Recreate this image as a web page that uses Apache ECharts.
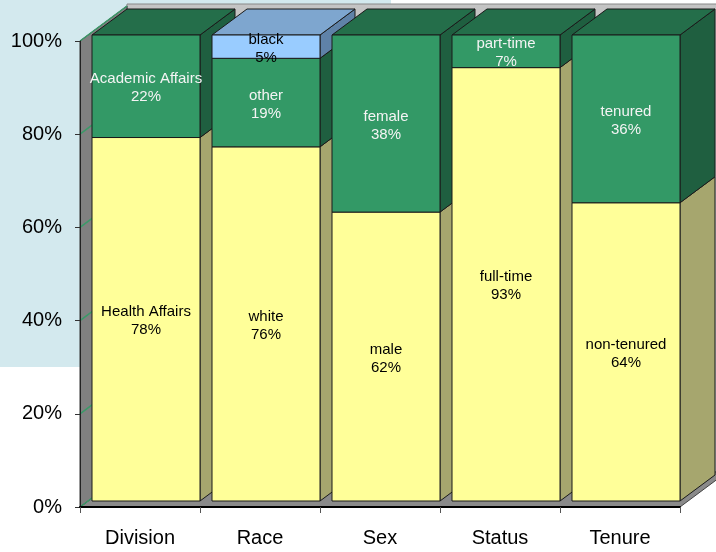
<!DOCTYPE html>
<html><head><meta charset="utf-8">
<script src="https://cdn.jsdelivr.net/npm/echarts@6/dist/echarts.min.js"></script>
<style>html,body{margin:0;padding:0;background:#fff}#c{width:716px;height:552px}</style>
</head><body><div id="c"></div>
<script>
// ---- data ----
const categories = ['Division', 'Race', 'Sex', 'Status', 'Tenure'];
const bottomNames = ['Health Affairs', 'white', 'male', 'full-time', 'non-tenured'];
const bottomValues = [78, 76, 62, 93, 64];
const middleNames = ['Academic Affairs', 'other', 'female', 'part-time', 'tenured'];
const middleValues = [22, 19, 38, 7, 36];
const topNames = ['', 'black', '', '', ''];
const topValues = [0, 5, 0, 0, 0];
const yTicks = [0, 20, 40, 60, 80, 100];

// ---- style ----
const FONT = '"Liberation Sans", Arial, sans-serif';
const G = {left: 80, right: 36, top: 41, bottom: 45};
const DX = 35, DY = 26, OFFX = 12, OFFY = 6;
const WDX = 47, WDY = 35;
const segStyles = [
  {front: '#FFFF99', side: '#A6A66E', top: '#CCCC80'},
  {front: '#339966', side: '#1F5F40', top: '#246E4A'},
  {front: '#99CCFF', side: '#5F82A8', top: '#7EA6CF'}
];
const textColors = ['#000', '#F4F4F4', '#000'];

const seriesData = categories.map((c, i) => [i, bottomValues[i], middleValues[i], topValues[i]]);

function renderItem(params, api) {
  const i = api.value(0);
  const vals = [api.value(1), api.value(2), api.value(3)];
  const names = [bottomNames[i], middleNames[i], topNames[i]];
  const band = api.size([1, 0])[0];
  const cx = api.coord([i, 0])[0];
  const left = cx - band / 2 + OFFX, right = cx + band / 2;
  const yOf = v => api.coord([i, v])[1] - OFFY;
  const sides = [], fronts = [], labels = [];
  let cum = 0, topY = null, topStyle = null;
  vals.forEach((v, k) => {
    if (!(v > 0)) return;
    const y0 = yOf(cum), y1 = yOf(cum + v);
    cum += v;
    const st = segStyles[k];
    sides.push({type: 'polygon', shape: {points: [[right, y1], [right + DX, y1 - DY], [right + DX, y0 - DY], [right, y0]]},
      style: {fill: st.side, stroke: '#1a1a1a', lineWidth: 1}});
    fronts.push({type: 'rect', shape: {x: left, y: y1, width: right - left, height: y0 - y1},
      style: {fill: st.front, stroke: '#1a1a1a', lineWidth: 1}});
    labels.push({type: 'text', style: {text: names[k] + '\n' + v + '%', x: (left + right) / 2, y: (y0 + y1) / 2 + 2,
      align: 'center', verticalAlign: 'middle', fill: textColors[k], font: '15px ' + FONT, lineHeight: 18}});
    topY = y1; topStyle = st;
  });
  const top = {type: 'polygon', shape: {points: [[left, topY], [right, topY], [right + DX, topY - DY], [left + DX, topY - DY]]},
    style: {fill: topStyle.top, stroke: '#1a1a1a', lineWidth: 1}};
  return {type: 'group', children: [...sides, top, ...fronts, ...labels]};
}

const chart = echarts.init(document.getElementById('c'), null, {renderer: 'canvas'});
const W = 716, H = 552;
const x0 = G.left, x1 = W - G.right, yT = G.top, yB = H - G.bottom;
const yPix = v => yB - (yB - yT) * v / 100;

const graphics = [
  {type: 'rect', z: -10, shape: {x: 0, y: 0, width: 391, height: 367}, style: {fill: '#D3E9EE'}},
  // back wall
  {type: 'polygon', z: -5, shape: {points: [[x0 + WDX, yT - WDY - 2], [W + 20, yT - WDY - 2], [W + 20, yB - WDY], [x0 + WDX, yB - WDY]]},
    style: {fill: '#C4C4C4', stroke: '#888', lineWidth: 1}},
  // floor
  {type: 'polygon', z: -4, shape: {points: [[x0, yB], [x1, yB], [x1 + WDX, yB - WDY], [x0 + WDX, yB - WDY]]},
    style: {fill: '#8A8A8A', stroke: '#444', lineWidth: 1}},
  // left wall
  {type: 'polygon', z: -4, shape: {points: [[x0, yT], [x0 + WDX, yT - WDY], [x0 + WDX, yB - WDY], [x0, yB]]},
    style: {fill: '#808080', stroke: '#333', lineWidth: 1}}
];
yTicks.forEach(v => {
  const y = yPix(v);
  graphics.push({type: 'line', z: -3, shape: {x1: x0, y1: y, x2: x0 + WDX, y2: y - WDY}, style: {stroke: '#3A9A68', lineWidth: 1.5}});
});

chart.setOption({
  animation: false,
  backgroundColor: '#fff',
  grid: {left: G.left, right: G.right, top: G.top, bottom: G.bottom, containLabel: false},
  graphic: {elements: graphics},
  xAxis: {
    type: 'category', data: categories, z: 5,
    axisLine: {lineStyle: {color: '#000', width: 2}},
    axisTick: {show: true, length: 6, lineStyle: {color: '#555'}},
    axisLabel: {fontSize: 20, color: '#000', fontFamily: FONT, margin: 21}
  },
  yAxis: {
    type: 'value', min: 0, max: 100, interval: 20,
    axisLine: {show: true, lineStyle: {color: '#222'}},
    axisTick: {show: true, length: 5, lineStyle: {color: '#333'}},
    splitLine: {show: false},
    axisLabel: {formatter: '{value}%', fontSize: 20, color: '#000', fontFamily: FONT, margin: 18}
  },
  series: [{
    type: 'custom', renderItem: renderItem, data: seriesData, clip: false,
    encode: {x: 0, y: [1, 2, 3]}
  }]
});
</script></body></html>
